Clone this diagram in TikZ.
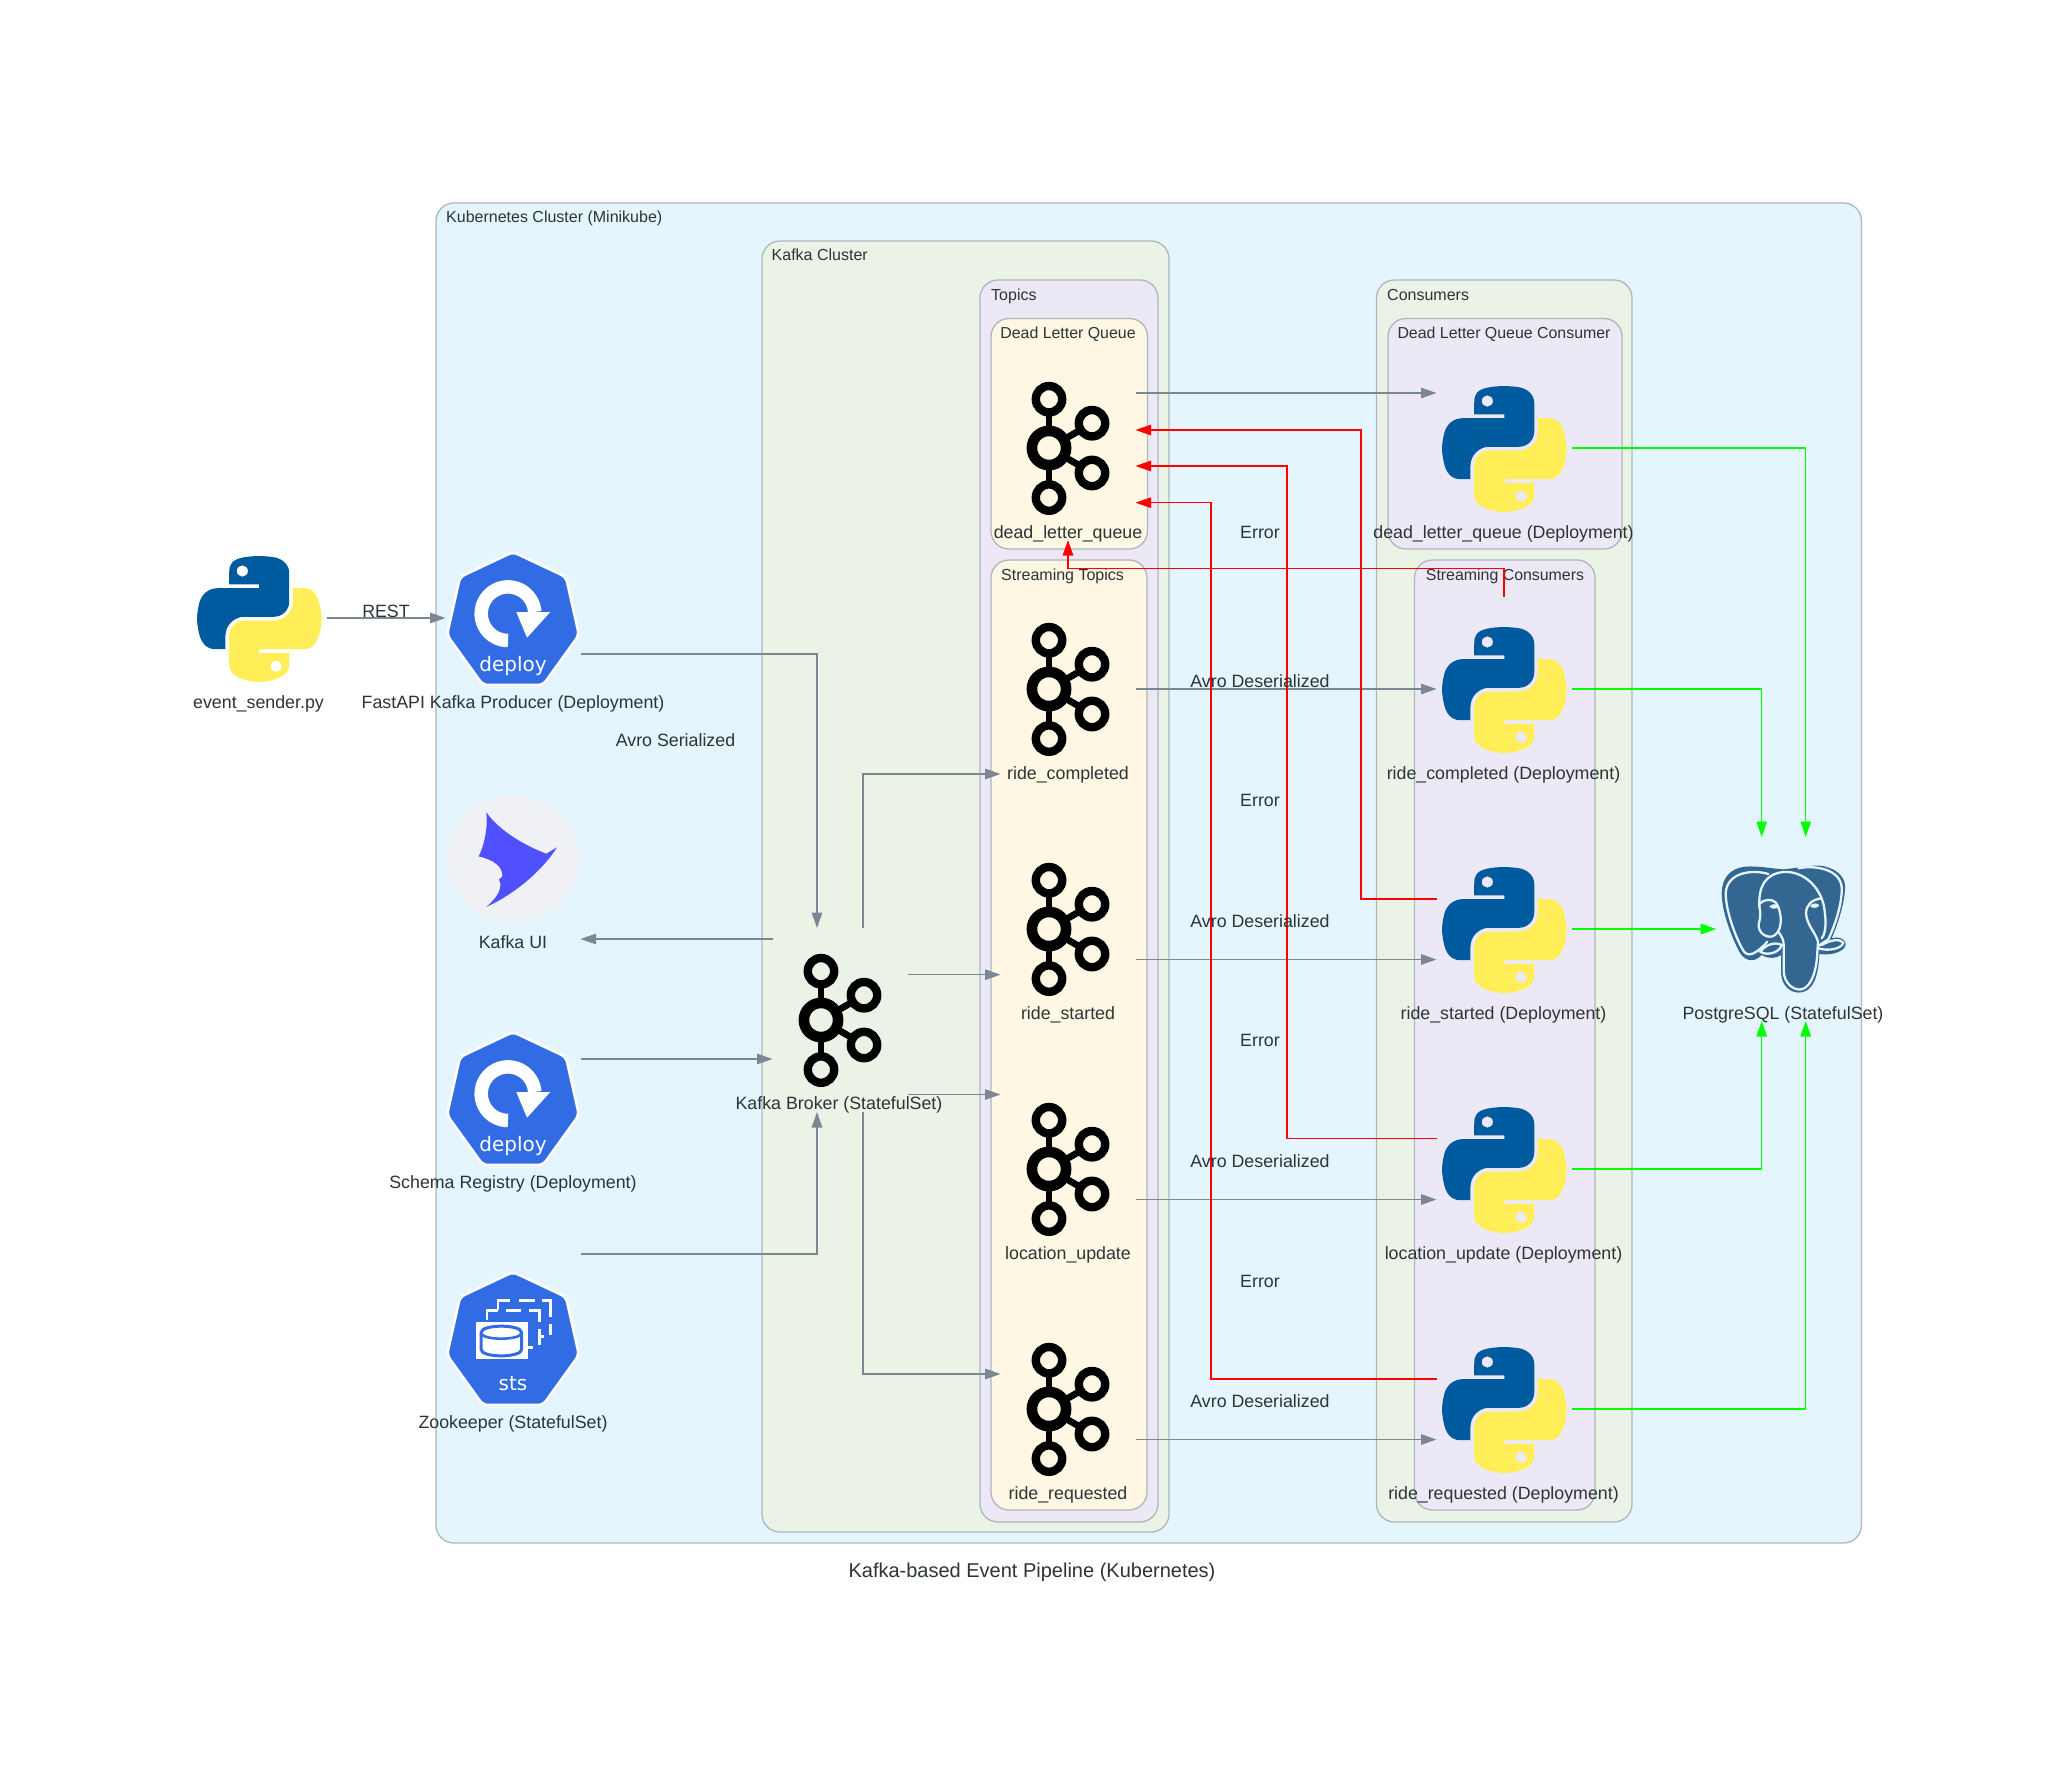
\documentclass[tikz,border=0pt]{standalone}
\usepackage{fontspec}
\setmainfont{Liberation Sans}
\newfontfamily\dejavu{DejaVu Sans}
\usetikzlibrary{arrows.meta,calc}
\definecolor{kcl}{HTML}{E5F5FD}
\definecolor{kgreen}{HTML}{EBF3E7}
\definecolor{kpurple}{HTML}{ECE8F6}
\definecolor{kcream}{HTML}{FDF7E3}
\definecolor{kpen}{HTML}{AEB6BE}
\definecolor{kfont}{HTML}{2D3436}
\definecolor{kedge}{HTML}{7B8894}
\definecolor{k8s}{HTML}{326CE5}
\definecolor{pyblue}{HTML}{005B9E}
\definecolor{pyyellow}{HTML}{FFEE58}
\definecolor{pgblue}{HTML}{336791}
\definecolor{uigrey}{HTML}{EFF1F4}
\definecolor{uiblue}{HTML}{5050FF}
\tikzset{
  clusterbox/.style={draw=kpen,line width=1.3pt,rounded corners=18pt},
  iconbox/.style={inner sep=0pt,outer sep=0pt,minimum width=135pt,minimum height=184pt},
  nodetext/.style={anchor=base,inner sep=0pt,text=kfont,font=\fontsize{17.8}{20}\selectfont},
  clustertext/.style={anchor=base west,inner sep=0pt,text=kfont,font=\fontsize{16}{18}\selectfont},
  clustermid/.style={anchor=base,inner sep=0pt,text=kfont,font=\fontsize{15.9}{18}\selectfont},
  grey arrow/.style={draw=kedge,line width=1.3pt,-{Triangle[length=15.5pt,width=10.5pt,fill=kedge]}},
  red arrow/.style={draw=red,line width=1.3pt,-{Triangle[length=15.5pt,width=10.5pt,fill=red]}},
  green arrow/.style={draw=green,line width=1.3pt,-{Triangle[length=15.5pt,width=10.5pt,fill=green]}},
  pics/pythonlogo/.style={code={
    \begin{scope}[scale=1.12,shift={(-55.3,-55.3)}]
    \fill[pyblue,even odd rule] (54.92,0) .. controls (50.34,0.02) and (45.96,0.41) .. (42.11,1.09)
      .. controls (30.76,3.10) and (28.70,7.29) .. (28.70,15.03) -- (28.70,25.25) -- (55.51,25.25)
      -- (55.51,28.66) -- (18.64,28.66) .. controls (10.85,28.66) and (4.02,33.34) .. (1.89,42.25)
      .. controls (-0.57,52.46) and (-0.68,58.84) .. (1.89,69.50)
      .. controls (3.80,77.44) and (8.35,83.09) .. (16.14,83.09) -- (25.36,83.09) -- (25.36,70.84)
      .. controls (25.36,61.99) and (33.02,54.19) .. (42.11,54.18) -- (68.89,54.18)
      .. controls (76.34,54.18) and (82.30,48.04) .. (82.30,40.56) -- (82.30,15.03)
      .. controls (82.30,7.77) and (76.17,2.31) .. (68.89,1.09)
      .. controls (64.28,0.33) and (59.50,-0.02) .. (54.92,0) -- cycle
      (45.45,13.34) .. controls (45.45,16.15) and (43.19,18.43) .. (40.42,18.43)
      .. controls (37.64,18.43) and (35.39,16.15) .. (35.39,13.34)
      .. controls (35.39,10.51) and (37.64,8.22) .. (40.42,8.22)
      .. controls (43.19,8.22) and (45.45,10.51) .. (45.45,13.34) -- cycle;
    \fill[pyyellow,even odd rule] (85.64,28.66) -- (85.64,40.56)
      .. controls (85.64,49.79) and (77.81,57.56) .. (68.89,57.56) -- (42.11,57.56)
      .. controls (34.77,57.56) and (28.70,63.84) .. (28.70,71.19) -- (28.70,96.72)
      .. controls (28.70,103.99) and (35.02,108.26) .. (42.11,110.35)
      .. controls (50.59,112.84) and (58.73,113.29) .. (68.89,110.35)
      .. controls (75.64,108.39) and (82.29,104.46) .. (82.29,96.72) -- (82.29,86.50)
      -- (55.51,86.50) -- (55.51,83.09) -- (95.70,83.09)
      .. controls (103.49,83.09) and (106.39,77.66) .. (109.10,69.50)
      .. controls (111.90,61.10) and (111.84,53.03) .. (109.10,42.25)
      .. controls (107.17,34.49) and (103.49,28.66) .. (95.70,28.66) -- cycle
      (75.60,98.41) .. controls (75.60,101.24) and (73.35,103.53) .. (70.57,103.53)
      .. controls (67.80,103.53) and (65.54,101.24) .. (65.54,98.41)
      .. controls (65.54,95.59) and (67.80,93.31) .. (70.57,93.31)
      .. controls (73.35,93.31) and (75.60,95.59) .. (75.60,98.41) -- cycle;
    \end{scope}
  }},
  pics/kafkalogo/.style={code={
    \begin{scope}[xshift=-19pt]
    \draw[black,line width=6.7pt] (0,-38) -- (0,-19);
    \draw[black,line width=6.7pt] (0,19) -- (0,38);
    \draw[black,line width=6.7pt] (15.6,-8.9) -- (32,-18.4);
    \draw[black,line width=6.7pt] (15.6,8.9) -- (32,18.4);
    \draw[black,line width=10.6pt] (0,0) circle[radius=17.1];
    \foreach \px/\py in {0/-48.8,0/49.6,43/-24.8,43/25}{
      \draw[black,line width=8.4pt] (\px,\py) circle[radius=13.2];
    }
    \end{scope}
  }},
  pics/heptagon/.style={code={
    \draw[fill=k8s,draw=white,line width=2.6pt,rounded corners=5pt]
      (0,-66) -- (53,-41) -- (66,17) -- (30,67) -- (-30,67) -- (-66,17) -- (-53,-41) -- cycle;
  }},
  pics/deploylogo/.style={code={
    \pic {heptagon};
    \draw[white,line width=13.5pt] plot[domain=90:356,samples=50] ({cos(\x)*26.8-5},{sin(\x)*26.8-4.3});
    \fill[white] (3.3,-6) -- (37.3,-6) -- (14,19.7) -- cycle;
    \node[anchor=base,inner sep=0pt,text=white,font=\dejavu\fontsize{20}{24}\selectfont] at (0,53.7) {deploy};
  }},
  pics/stslogo/.style={code={
    \pic {heptagon};
    \begin{scope}[scale=1/3,shift={(-250,-234)}]
    \begin{scope}[white,line width=2.7pt]
    \draw (205,150) -- (205,122) -- (240,122);
    \draw (268,122) -- (315,122);
    \draw (338,122) -- (362,122) -- (362,170);
    \draw (362,192) -- (362,225);
    \draw (172,180) -- (172,152) -- (205,152);
    \draw (228,152) -- (275,152);
    \draw (298,152) -- (330,152) -- (330,185);
    \draw (330,208) -- (330,255);
    \draw (330,230) -- (342,230);
    \draw (295,262) -- (310,262);
    \end{scope}
    \fill[white] (138,185) rectangle (295,298);
    \draw[k8s,line width=3pt,fill=white] (154,218) -- (154,268)
      .. controls (154,294) and (276,294) .. (276,268) -- (276,218)
      .. controls (276,192) and (154,192) .. (154,218) -- cycle;
    \draw[k8s,line width=2.6pt] (154,218) .. controls (154,242) and (276,242) .. (276,218);
    \node[anchor=base,inner sep=0pt,text=white,font=\dejavu\fontsize{20}{24}\selectfont] at (250,392) {sts};
    \end{scope}
  }},
  pics/uilogo/.style={code={
    \fill[uigrey] (0,1) ellipse[x radius=66.5,y radius=63.5];
    \begin{scope}[scale=1/3,shift={(-1000,-985)}]
    \fill[uiblue] (920,848) .. controls (960,905) and (1040,950) .. (1100,972) -- (1132,953)
      .. controls (1090,1020) and (1010,1090) .. (920,1132)
      .. controls (945,1110) and (965,1085) .. (962,1060) -- (958,1050) -- (968,1040)
      .. controls (970,1010) and (940,990) .. (897,980)
      .. controls (915,945) and (925,890) .. (920,848) -- cycle;
    \end{scope}
  }},
  pics/pglogo/.style={code={
    \begin{scope}[scale=1/3,shift={(-311,-387)}]
    \fill[pgblue] (310,208) .. controls (270,205) and (230,197) .. (195,200)
      .. controls (150,205) and (125,235) .. (125,280)
      .. controls (125,330) and (150,400) .. (175,450)
      .. controls (190,482) and (220,492) .. (245,465)
      .. controls (265,478) and (290,475) .. (303,465)
      -- (303,520) .. controls (305,560) and (335,582) .. (365,577)
      .. controls (400,570) and (415,530) .. (418,462)
      .. controls (450,468) and (497,455) .. (497,432)
      .. controls (497,415) and (470,408) .. (455,415)
      .. controls (470,380) and (495,310) .. (495,260)
      .. controls (495,215) and (440,193) .. (400,197)
      .. controls (370,200) and (340,205) .. (310,208) -- cycle;
    \begin{scope}[draw=kcl,line width=2.3pt,line cap=round,line join=round]
    \draw (265,222) .. controls (220,208) and (140,215) .. (137,280)
      .. controls (137,330) and (165,410) .. (190,452)
      .. controls (205,475) and (230,460) .. (262,425);
    \draw (238,320) .. controls (235,260) and (255,222) .. (310,216)
      .. controls (370,212) and (420,260) .. (432,320)
      .. controls (438,360) and (440,395) .. (425,415);
    \draw (355,205) .. controls (400,195) and (480,205) .. (485,262)
      .. controls (487,310) and (465,375) .. (445,418) -- (415,438);
    \draw (238,320) .. controls (242,340) and (242,350) .. (236,372)
      .. controls (232,400) and (265,420) .. (285,405)
      .. controls (310,385) and (305,335) .. (288,308)
      .. controls (275,295) and (250,298) .. (238,312);
    \draw (295,395) .. controls (305,410) and (312,420) .. (311,440)
      -- (311,515) .. controls (313,550) and (340,572) .. (365,568)
      .. controls (395,560) and (410,510) .. (412,455)
      -- (414,425) .. controls (405,395) and (380,375) .. (378,340)
      .. controls (378,315) and (395,298) .. (425,295);
    \draw (240,455) .. controls (260,432) and (285,425) .. (305,435)
      .. controls (300,455) and (265,470) .. (240,455);
    \draw (415,445) .. controls (450,455) and (485,445) .. (490,428)
      .. controls (480,415) and (450,420) .. (425,435);
    \end{scope}
    \fill[kcl] (268,320) .. controls (275,310) and (290,310) .. (296,320)
      .. controls (290,328) and (275,328) .. (268,320) -- cycle;
    \fill[kcl] (390,318) .. controls (397,308) and (412,308) .. (418,316)
      .. controls (412,326) and (397,326) .. (390,318) -- cycle;
    \end{scope}
  }}
}
\begin{document}
\begin{tikzpicture}[x=1pt,y=-1pt]
\useasboundingbox (0,0) rectangle (2064,1777);
\fill[white] (0,0) rectangle (2064,1777);
% clusters
\draw[clusterbox,fill=kcl] (436,203) rectangle (1861.5,1543);
\draw[clusterbox,fill=kgreen] (762,241) rectangle (1169,1532);
\draw[clusterbox,fill=kpurple] (980,280) rectangle (1158,1522);
\draw[clusterbox,fill=kcream] (991,318.5) rectangle (1147.5,549);
\draw[clusterbox,fill=kcream] (991,560) rectangle (1147,1510);
\draw[clusterbox,fill=kgreen] (1376.5,280) rectangle (1632,1522);
\draw[clusterbox,fill=kpurple] (1388,318.5) rectangle (1622,549);
\draw[clusterbox,fill=kpurple] (1414.5,560) rectangle (1595,1510);
\node[clustertext] (ck) at (446,222) {Kubernetes Cluster (Minikube)};
\node[clustertext] (ca) at (771.5,260.5) {Kafka Cluster};
\node[clustertext] (ct) at (991,300) {Topics};
\node[clustertext] (cc) at (1387,300) {Consumers};
\node[clustermid] (cd) at (1068,338.5) {Dead Letter Queue};
\node[clustermid] (ce) at (1504,338.5) {Dead Letter Queue Consumer};
\node[clustertext] (cs) at (1001,580) {Streaming Topics};
\node[clustermid] (cr) at (1505,580) {Streaming Consumers};
% nodes
\node[iconbox] (sender) at (259,618) {};
\pic at (sender) {pythonlogo};
\node[nodetext] (senderl) at (258.5,708) {event\_sender.py};
\node[iconbox] (fast) at (513,618) {};
\pic at (fast) {deploylogo};
\node[nodetext] (fastl) at (513,708) {FastAPI Kafka Producer (Deployment)};
\node[iconbox] (ui) at (513,858) {};
\pic at (ui) {uilogo};
\node[nodetext] (uil) at (513,948) {Kafka UI};
\node[iconbox] (schema) at (513,1098) {};
\pic at (schema) {deploylogo};
\node[nodetext] (schemal) at (513,1188) {Schema Registry (Deployment)};
\node[iconbox] (zoo) at (513,1338) {};
\pic at (zoo) {stslogo};
\node[nodetext] (zool) at (513,1428) {Zookeeper (StatefulSet)};
\node[iconbox] (broker) at (840,1020) {};
\pic at (broker) {kafkalogo};
\node[nodetext] (brokerl) at (839,1109.5) {Kafka Broker (StatefulSet)};
\node[iconbox] (t0) at (1068,448) {};
\pic at (t0) {kafkalogo};
\node[nodetext] (t0l) at (1068,538) {dead\_letter\_queue};
\node[iconbox] (t1) at (1068,689) {};
\pic at (t1) {kafkalogo};
\node[nodetext] (t1l) at (1068,779) {ride\_completed};
\node[iconbox] (t2) at (1068,929) {};
\pic at (t2) {kafkalogo};
\node[nodetext] (t2l) at (1068,1019) {ride\_started};
\node[iconbox] (t3) at (1068,1169) {};
\pic at (t3) {kafkalogo};
\node[nodetext] (t3l) at (1068,1259) {location\_update};
\node[iconbox] (t4) at (1068,1409) {};
\pic at (t4) {kafkalogo};
\node[nodetext] (t4l) at (1068,1499) {ride\_requested};
\node[iconbox] (p0) at (1504,448) {};
\pic at (p0) {pythonlogo};
\node[nodetext] (p0l) at (1503.5,538) {dead\_letter\_queue (Deployment)};
\node[iconbox] (p1) at (1504,689) {};
\pic at (p1) {pythonlogo};
\node[nodetext] (p1l) at (1503.5,779) {ride\_completed (Deployment)};
\node[iconbox] (p2) at (1504,929) {};
\pic at (p2) {pythonlogo};
\node[nodetext] (p2l) at (1503.5,1019) {ride\_started (Deployment)};
\node[iconbox] (p3) at (1504,1169) {};
\pic at (p3) {pythonlogo};
\node[nodetext] (p3l) at (1503.5,1259) {location\_update (Deployment)};
\node[iconbox] (p4) at (1504,1409) {};
\pic at (p4) {pythonlogo};
\node[nodetext] (p4l) at (1503.5,1499) {ride\_requested (Deployment)};
\node[iconbox] (pg) at (1783.7,929) {};
\pic at (pg) {pglogo};
\node[nodetext] (pgl) at (1783,1019) {PostgreSQL (StatefulSet)};
% edges
\draw[grey arrow] (sender.east) -- (fast.west);
\draw[grey arrow] ([yshift=-36pt]fast.east) -| ([xshift=-23pt]broker.north);
\draw[grey arrow] ([yshift=81pt]broker.west) -- ([yshift=-81pt]ui.east);
\draw[grey arrow] ([yshift=39pt]schema.east) -- ([yshift=-39pt]broker.west);
\draw[grey arrow] ([yshift=84pt]zoo.east) -| ([xshift=-23pt]broker.south);
\draw[grey arrow] ([xshift=23pt]broker.north) |- ([yshift=-85pt]t1.west);
\draw[grey arrow] ([yshift=45.3pt]broker.east) -- ([yshift=-45.7pt]t2.west);
\draw[grey arrow] ([yshift=-74.5pt]broker.east) -- ([yshift=74.5pt]t3.west);
\draw[grey arrow] ([xshift=23pt]broker.south) |- ([yshift=35pt]t4.west);
\draw[grey arrow] ([yshift=55pt]t0.east) -- ([yshift=55pt]p0.west);
\draw[grey arrow] (t1.east) -- (p1.west);
\draw[grey arrow] ([yshift=-30.5pt]t2.east) -- ([yshift=-30.5pt]p2.west);
\draw[grey arrow] ([yshift=-30.5pt]t3.east) -- ([yshift=-30.5pt]p3.west);
\draw[grey arrow] ([yshift=-30.5pt]t4.east) -- ([yshift=-30.5pt]p4.west);
\coordinate (r1) at (1068,568.3);
\coordinate (r2) at (1361,430);
\coordinate (r3) at (1287,466);
\coordinate (r4) at (1211,502.7);
\draw[red arrow] (p1.north) |- (r1) -- (t0.south);
\draw[red arrow] ([yshift=30pt]p2.west) -| (r2) -- ([yshift=18pt]t0.east);
\draw[red arrow] ([yshift=30.5pt]p3.west) -| (r3) -- ([yshift=-18pt]t0.east);
\draw[red arrow] ([yshift=30pt]p4.west) -| (r4) -- ([yshift=-54.7pt]t0.east);
\draw[green arrow] (p0.east) -| ([xshift=22pt]pg.north);
\draw[green arrow] (p1.east) -| ([xshift=-22pt]pg.north);
\draw[green arrow] (p2.east) -- (pg.west);
\draw[green arrow] (p3.east) -| ([xshift=-22pt]pg.south);
\draw[green arrow] (p4.east) -| ([xshift=22pt]pg.south);
% edge labels
\node[nodetext] (lrest) at (386,617.7) {REST};
\node[nodetext] (lavro) at (675.5,746.7) {Avro Serialized};
\node[nodetext] (la1) at (1260,687.7) {Avro Deserialized};
\node[nodetext] (la2) at (1260,927.7) {Avro Deserialized};
\node[nodetext] (la3) at (1260,1167.7) {Avro Deserialized};
\node[nodetext] (la4) at (1260,1407.7) {Avro Deserialized};
\node[nodetext] (le1) at (1260,538.3) {Error};
\node[nodetext] (le2) at (1260,806.5) {Error};
\node[nodetext] (le3) at (1260,1046.5) {Error};
\node[nodetext] (le4) at (1260,1287) {Error};
\node[anchor=base,inner sep=0pt,text=kfont,font=\fontsize{20}{24}\selectfont] (title) at (1032,1577) {Kafka-based Event Pipeline (Kubernetes)};
\end{tikzpicture}
\end{document}
